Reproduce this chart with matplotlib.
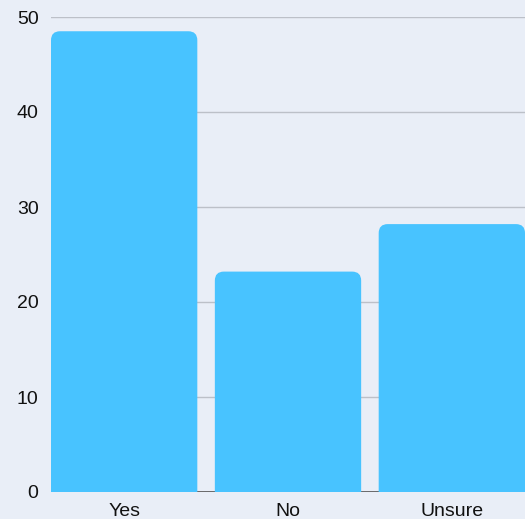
import matplotlib
matplotlib.use("Agg")
import matplotlib.pyplot as plt
from matplotlib.patches import FancyBboxPatch

# survey answers
answers = ["Yes", "No", "Unsure"]
counts = [48.5, 23.2, 28.2]

BG = "#e9eef7"
BAR = "#48c3ff"

W, H = 525, 519
fig = plt.figure(figsize=(W / 100, H / 100), dpi=100, facecolor=BG)
ax = fig.add_axes([51 / W, 27 / H, (W - 51) / W, (492 - 17) / H], facecolor=BG)

width = 0.893
xs = list(range(len(answers)))
ax.set_xlim(-width / 2, len(answers) - 1 + width / 2)
ax.set_ylim(0, 50)

# rounded tops: swap plain bars for round boxes sunk below the baseline
bars = ax.bar(xs, counts, width=width, color=BAR, zorder=2)
px_x = (ax.get_xlim()[1] - ax.get_xlim()[0]) / (W - 51)
px_y = 50 / (492 - 17)
radius = 9
for b in bars:
    b.set_visible(False)
    x0, w, h = b.get_x(), b.get_width(), b.get_height()
    sunk = radius * px_y
    box = FancyBboxPatch((x0, -sunk), w, h + sunk,
                         boxstyle=f"round,pad=0,rounding_size={radius * px_x}",
                         mutation_aspect=px_y / px_x,
                         facecolor=BAR, edgecolor="none", zorder=2)
    ax.add_patch(box)

ax.set_yticks([0, 10, 20, 30, 40, 50])
ax.set_xticks(xs)
ax.set_xticklabels(answers)
ax.grid(axis="y", color="#bcc0c8", linewidth=1)
ax.set_axisbelow(True)
ax.tick_params(length=0, labelsize=14, colors="#111111")
ax.tick_params(axis="y", pad=9)
ax.tick_params(axis="x", pad=8)
for s in ax.spines.values():
    s.set_visible(False)
# baseline only shows in the gaps between bars
ax.axhline(0, color="#555555", linewidth=1.2, zorder=1.5)

for lbl in ax.get_xticklabels() + ax.get_yticklabels():
    lbl.set_family(["Liberation Sans", "DejaVu Sans"])

fig.savefig("out.png", dpi=100, facecolor=BG)
